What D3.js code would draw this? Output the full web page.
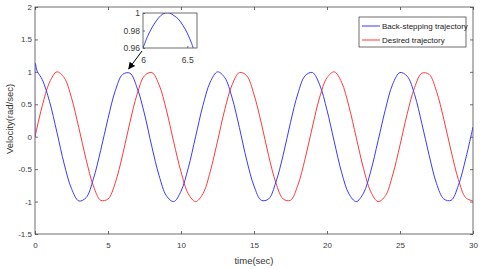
<!DOCTYPE html>
<html><head><meta charset="utf-8">
<script src="https://cdn.jsdelivr.net/npm/d3@7"></script>
<style>
html,body{margin:0;padding:0;background:#fff;}
text{font-family:"Liberation Sans",Arial,sans-serif;}
</style></head>
<body>
<svg id="c" width="480" height="269"></svg>
<script>
// ---- data ----
const time = [0,0.02,0.15,0.5,1,1.5,2,2.5,3,3.5,4,4.5,5,5.5,6,6.5,7,7.5,8,8.5,9,9.5,10,10.5,11,11.5,12,12.5,13,13.5,14,14.5,15,15.5,16,16.5,17,17.5,18,18.5,19,19.5,20,20.5,21,21.5,22,22.5,23,23.5,24,24.5,25,25.5,26,26.5,27,27.5,28,28.5,29,29.5,30];
const backStepping = [0,1.13,1.01,0.88,0.54,0.07,-0.42,-0.80,-0.99,-0.94,-0.65,-0.21,0.28,0.71,0.96,0.98,0.75,0.35,-0.15,-0.60,-0.91,-1.00,-0.84,-0.48,0.00,0.48,0.84,1.00,0.91,0.60,0.14,-0.36,-0.76,-0.98,-0.96,-0.70,-0.28,0.22,0.66,0.94,0.99,0.80,0.41,-0.08,-0.55,-0.88,-1.00,-0.87,-0.53,-0.06,0.42,0.81,0.99,0.93,0.65,0.20,-0.29,-0.72,-0.96,-0.98,-0.75,-0.34,0.15];
const desired = [0,0.02,0.15,0.48,0.84,1.00,0.91,0.60,0.14,-0.35,-0.76,-0.98,-0.96,-0.71,-0.28,0.22,0.66,0.94,0.99,0.80,0.41,-0.08,-0.54,-0.88,-1.00,-0.88,-0.54,-0.07,0.42,0.80,0.99,0.94,0.65,0.21,-0.29,-0.71,-0.96,-0.98,-0.75,-0.34,0.15,0.61,0.91,1.00,0.84,0.47,-0.01,-0.49,-0.85,-1.00,-0.91,-0.59,-0.13,0.36,0.76,0.98,0.96,0.70,0.27,-0.22,-0.66,-0.94,-0.99];
const xTicks = [0,5,10,15,20,25,30];
const yTicks = [-1.5,-1,-0.5,0,0.5,1,1.5,2];
const insetTime = [6.0,6.05,6.1,6.15,6.2,6.25,6.3,6.35,6.4,6.45,6.5,6.55,6.6];
const insetBack = [0.960,0.973,0.983,0.991,0.997,1.000,1.000,0.997,0.993,0.986,0.977,0.965,0.950];
const insetXTicks = [6,6.5];
const insetYTicks = [0.96,0.98,1];
const seriesNames = ["Back-stepping trajectory","Desired trajectory"];

// ---- drawing ----
const svg = d3.select("#c");
const axisCol = "#4a4a4a";
const blue = "#3a3aff", red = "#ff3a3a";
const x = d3.scaleLinear().domain([0,30]).range([35,473]);
const y = d3.scaleLinear().domain([-1.5,2]).range([234,7]);

svg.append("defs").append("clipPath").attr("id","pc")
  .append("rect").attr("x",35).attr("y",7).attr("width",438).attr("height",227);

function styleAxis(g, fs){
  g.select(".domain").remove();
  g.selectAll("line").attr("stroke",axisCol).attr("stroke-width",0.8);
  g.selectAll("text").attr("fill","#3a3a3a").style("font-size",fs+"px");
}
svg.append("g").attr("transform","translate(0,234)")
  .call(d3.axisBottom(x).tickValues(xTicks).tickSize(-3).tickPadding(8).tickFormat(d3.format("d")))
  .call(g=>styleAxis(g,8));
svg.append("g").attr("transform","translate(35,0)")
  .call(d3.axisLeft(y).tickValues(yTicks).tickSize(-3).tickPadding(3).tickFormat(d=>String(d)))
  .call(g=>styleAxis(g,8));
svg.append("g").attr("transform","translate(0,7)")
  .call(d3.axisTop(x).tickValues(xTicks).tickSize(-3).tickFormat(""))
  .call(g=>styleAxis(g,8));
svg.append("g").attr("transform","translate(473,0)")
  .call(d3.axisRight(y).tickValues(yTicks).tickSize(-3).tickFormat(""))
  .call(g=>styleAxis(g,8));
svg.append("rect").attr("x",35).attr("y",7).attr("width",438).attr("height",227)
  .attr("fill","none").attr("stroke",axisCol).attr("stroke-width",0.8);

const line = d3.line().x((d,i)=>x(time[i])).y(d=>y(d)).curve(d3.curveCatmullRom.alpha(0.5));
const plot = svg.append("g").attr("clip-path","url(#pc)");
plot.append("path").datum(desired).attr("d",line).attr("fill","none").attr("stroke",red).attr("stroke-width",1);
plot.append("path").datum(backStepping).attr("d",line).attr("fill","none").attr("stroke",blue).attr("stroke-width",1);

// labels
svg.append("text").attr("x",254).attr("y",264).attr("text-anchor","middle")
  .style("font-size","9.5px").attr("fill","#333").text("time(sec)");
svg.append("text").attr("transform","translate(13,119) rotate(-90)").attr("text-anchor","middle")
  .style("font-size","9.5px").attr("fill","#333").text("Velocity(rad/sec)");

// legend
const lg = svg.append("g");
lg.append("rect").attr("x",359).attr("y",17).attr("width",107).attr("height",30)
  .attr("fill","#fff").attr("stroke",axisCol).attr("stroke-width",0.8);
[blue,red].forEach((c,i)=>{
  const yy = 26 + i*14;
  lg.append("line").attr("x1",362).attr("x2",380).attr("y1",yy).attr("y2",yy).attr("stroke",c).attr("stroke-width",1);
  lg.append("text").attr("x",382).attr("y",yy+3).style("font-family","'Liberation Sans Narrow',Arial,sans-serif")
    .style("font-size","8px").attr("fill","#222").text(seriesNames[i]);
});

// inset
const ix = d3.scaleLinear().domain([6,6.61]).range([143,197]);
const iy = d3.scaleLinear().domain([0.96,1]).range([48,13]);
svg.append("defs").append("clipPath").attr("id","ic")
  .append("rect").attr("x",143).attr("y",13).attr("width",54).attr("height",35);
svg.append("rect").attr("x",143).attr("y",13).attr("width",54).attr("height",35).attr("fill","#fff");
svg.append("g").attr("transform","translate(143,0)")
  .call(d3.axisLeft(iy).tickValues(insetYTicks).tickSize(-2).tickPadding(3).tickFormat(d=>String(d)))
  .call(g=>styleAxis(g,8.5));
svg.append("g").attr("transform","translate(0,48)")
  .call(d3.axisBottom(ix).tickValues(insetXTicks).tickSize(-2).tickPadding(9).tickFormat(d=>String(d)))
  .call(g=>styleAxis(g,8.5));
const iline = d3.line().x((d,i)=>ix(insetTime[i])).y(d=>iy(d)).curve(d3.curveCatmullRom.alpha(0.5));
svg.append("g").attr("clip-path","url(#ic)").append("path").datum(insetBack).attr("d",iline)
  .attr("fill","none").attr("stroke",blue).attr("stroke-width",1);
svg.append("rect").attr("x",143).attr("y",13).attr("width",54).attr("height",35)
  .attr("fill","none").attr("stroke",axisCol).attr("stroke-width",0.8);

// arrow pointing at the zoomed peak
svg.select("defs").append("marker").attr("id","ah").attr("viewBox","0 0 10 10")
  .attr("refX",9).attr("refY",5).attr("markerWidth",7).attr("markerHeight",7)
  .attr("markerUnits","userSpaceOnUse").attr("orient","auto")
  .append("path").attr("d","M0,0L10,5L0,10z").attr("fill","#000");
svg.append("line").attr("x1",ix(6)-1).attr("y1",iy(0.96)+3).attr("x2",x(6.28)+2).attr("y2",y(1)-3)
  .attr("stroke","#000").attr("stroke-width",1).attr("marker-end","url(#ah)");
</script>
</body></html>
